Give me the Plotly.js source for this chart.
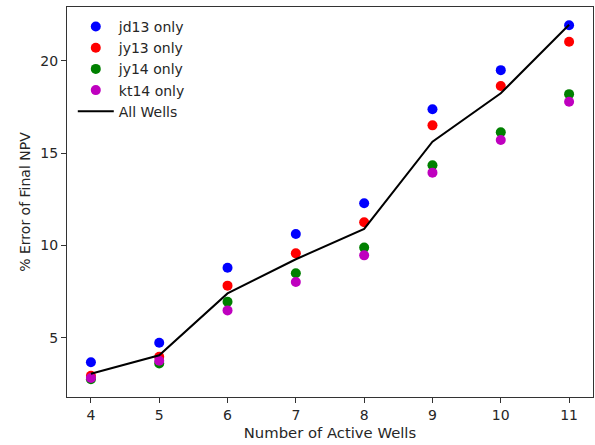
<!DOCTYPE html>
<html>
<head>
<meta charset="utf-8">
<script src="https://cdn.plot.ly/plotly-3.0.1.min.js"></script>
<style>html,body{margin:0;padding:0;background:#fff;}#chart{width:595px;height:445px;}</style>
</head>
<body>
<div id="chart"></div>
<script>
const wells = [4, 5, 6, 7, 8, 9, 10, 11];
const jd13 = [3.67, 4.73, 8.79, 10.62, 12.28, 17.37, 19.49, 21.92];
const jy13 = [2.94, 3.97, 7.82, 9.57, 11.25, 16.50, 18.63, 21.03];
const jy14 = [2.75, 3.61, 6.95, 8.49, 9.88, 14.34, 16.13, 18.19];
const kt14 = [2.82, 3.75, 6.48, 8.02, 9.46, 13.94, 15.71, 17.78];
const allWells = [3.05, 4.05, 7.40, 9.25, 10.89, 15.62, 18.24, 21.95];
const seriesNames = ["jd13 only", "jy13 only", "jy14 only", "kt14 only", "All Wells"];
const seriesColors = ["#0000ff", "#ff0000", "#008000", "#bf00bf", "#000000"];

const pointSeries = [jd13, jy13, jy14, kt14];
const traces = pointSeries.map((vals, i) => ({
  x: wells, y: vals, type: "scatter", mode: "markers",
  name: seriesNames[i],
  marker: {color: seriesColors[i], size: 10}
}));
traces.push({
  x: wells, y: allWells, type: "scatter", mode: "lines",
  name: seriesNames[4],
  line: {color: seriesColors[4], width: 2}
});

const font = {family: "DejaVu Sans, sans-serif", size: 14, color: "#262626"};
const titleFont = {family: "DejaVu Sans, sans-serif", size: 14.8, color: "#262626"};
const axisCommon = {
  showline: true, mirror: true, linecolor: "#333", linewidth: 1,
  ticks: "outside", ticklen: 5, tickwidth: 1, tickcolor: "#333",
  showgrid: false, zeroline: false, tickfont: font
};
const layout = {
  width: 595, height: 445,
  margin: {l: 67, r: 2, t: 7, b: 48},
  paper_bgcolor: "#fff", plot_bgcolor: "#fff",
  font: font,
  showlegend: true,
  legend: {x: 0.011, y: 0.99, xanchor: "left", yanchor: "top",
           bgcolor: "rgba(0,0,0,0)", font: font, tracegroupgap: 0, itemwidth: 36},
  xaxis: Object.assign({}, axisCommon, {
    range: [3.65, 11.35], tickvals: wells, ticktext: wells.map(String),
    title: {text: "Number of Active Wells", font: titleFont, standoff: 5}
  }),
  yaxis: Object.assign({}, axisCommon, {
    range: [1.79, 22.91], tickvals: [5, 10, 15, 20],
    title: {text: "% Error of Final NPV", font: font, standoff: 6}
  })
};
Plotly.newPlot("chart", traces, layout, {displayModeBar: false, staticPlot: true});
</script>
</body>
</html>
